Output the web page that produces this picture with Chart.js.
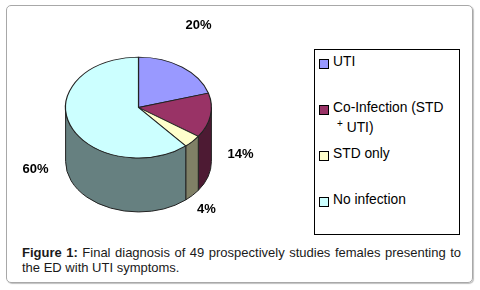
<!DOCTYPE html>
<html>
<head>
<meta charset="utf-8">
<script src="https://cdn.jsdelivr.net/npm/chart.js@4.4.1/dist/chart.umd.min.js"></script>
<style>
  html, body { margin:0; padding:0; background:#fff; width:480px; height:290px; overflow:hidden;
    font-family:"Liberation Sans", Arial, Helvetica, sans-serif; }
  #frame { position:absolute; left:6px; top:5px; width:467px; height:278px; border:1px solid #a8a8a8;
    border-radius:5px; box-shadow:1px 1px 1px rgba(0,0,0,0.25); box-sizing:border-box; }
  #chartWrap { position:absolute; left:0; top:0; width:300px; height:230px; }
  #legendBox { position:absolute; left:314px; top:49px; width:146px; height:186px; border:1px solid #000; box-sizing:border-box; }
  .lg-sq { position:absolute; width:10px; height:10px; border:1px solid #000; box-sizing:border-box; }
  .lg-tx { position:absolute; font-size:13.8px; line-height:20px; color:#000; white-space:nowrap; }
  .lg-tx sup { font-size:10px; vertical-align:5px; line-height:0; }
  .cap { position:absolute; left:22px; width:439px; font-size:13px; line-height:15px; color:#1a1a1a; white-space:nowrap; }
  #cap1 { top:245px; text-align:justify; text-align-last:justify; white-space:normal; }
  #cap2 { top:260px; }
</style>
</head>
<body>
<div id="frame"></div>
<div id="chartWrap"><canvas id="c" width="300" height="230"></canvas></div>
<div id="legendBox"></div>
<div id="legendItems"></div>
<div class="cap" id="cap1"><b>Figure 1:</b> Final diagnosis of 49 prospectively studies females presenting to</div>
<div class="cap" id="cap2">the ED with UTI symptoms.</div>
<script>
// ---- data ----
const categories = ['UTI', 'Co-Infection (STD + UTI)', 'STD only', 'No infection'];
const percentages = [20, 14, 4, 60];
const valueLabels = percentages.map(v => v + '%');

// ---- styles ----
const topColors  = ['#9999ff', '#993366', '#ffffcc', '#ccffff'];
const sideColors = ['#4d4d80', '#4d1a33', '#808066', '#668080'];
const edgeColor = '#222222';
// label placement relative to pie centre (layout only)
const labelOffsets = [[60, -82], [102, 47], [68, 102], [-103, 62]];

const pie3d = {
  id: 'pie3d',
  beforeDatasetsDraw(chart, args, opts) {
    const ctx = chart.ctx;
    const arcs = chart.getDatasetMeta(0).data;
    this._saved = false;
    if (!arcs.length) return;
    const p0 = arcs[0].getProps(['x', 'y', 'outerRadius'], true);
    const cx = p0.x, cy = p0.y, rx = p0.outerRadius, ry = rx * opts.squash, d = opts.depth;
    arcs.forEach((arc, i) => {
      const p = arc.getProps(['startAngle', 'endAngle'], true);
      const a1 = Math.max(p.startAngle, 0), a2 = Math.min(p.endAngle, Math.PI);
      if (a2 <= a1) return;
      ctx.save();
      ctx.beginPath();
      ctx.ellipse(cx, cy, rx, ry, 0, a1, a2);
      ctx.lineTo(cx + rx * Math.cos(a2), cy + ry * Math.sin(a2) + d);
      ctx.ellipse(cx, cy + d, rx, ry, 0, a2, a1, true);
      ctx.closePath();
      ctx.fillStyle = opts.sideColors[i];
      ctx.fill();
      ctx.strokeStyle = opts.edge;
      ctx.lineWidth = 1;
      ctx.stroke();
      ctx.restore();
    });
    ctx.save();
    this._saved = true;
    ctx.translate(cx, cy);
    ctx.scale(1, opts.squash);
    ctx.translate(-cx, -cy);
  },
  afterDatasetsDraw(chart, args, opts) {
    const ctx = chart.ctx;
    if (this._saved) ctx.restore();
    const arcs = chart.getDatasetMeta(0).data;
    if (!arcs.length) return;
    const p0 = arcs[0].getProps(['x', 'y'], true);
    ctx.save();
    ctx.font = 'bold 13px "Liberation Sans", Arial, sans-serif';
    ctx.fillStyle = '#000';
    ctx.textAlign = 'center';
    ctx.textBaseline = 'middle';
    opts.labels.forEach((t, i) => {
      const o = opts.offsets[i];
      ctx.fillText(t, p0.x + o[0], p0.y + o[1]);
    });
    ctx.restore();
  }
};

const chart = new Chart(document.getElementById('c'), {
  type: 'pie',
  data: {
    labels: categories,
    datasets: [{
      data: percentages,
      backgroundColor: topColors,
      borderColor: edgeColor,
      borderWidth: 1.2,
      hoverOffset: 0,
      offset: 0,
      clip: false
    }]
  },
  options: {
    responsive: false,
    animation: false,
    devicePixelRatio: 1,
    events: [],
    rotation: 0,
    layout: { padding: { left: 65, right: 88, top: 33, bottom: 48 } },
    plugins: {
      legend: { display: false },
      tooltip: { enabled: false },
      pie3d: { squash: 0.692, depth: 54, sideColors: sideColors, edge: edgeColor,
               labels: valueLabels, offsets: labelOffsets }
    }
  },
  plugins: [pie3d]
});

// ---- HTML legend built from the chart's data ----
const legendItems = document.getElementById('legendItems');
categories.forEach((name, i) => {
  const sqTop = 59 + i * 46;
  const sq = document.createElement('div');
  sq.className = 'lg-sq';
  sq.style.left = '319px';
  sq.style.top = sqTop + 'px';
  sq.style.background = topColors[i];
  legendItems.appendChild(sq);
  const tx = document.createElement('div');
  tx.className = 'lg-tx';
  tx.style.left = '333px';
  tx.style.top = (sqTop - 7.5) + 'px';
  const parts = name.split(' + ');
  if (parts.length === 2) {
    tx.innerHTML = parts[0] + '<br><span style="padding-left:4px"><sup>+</sup> ' + parts[1] + '</span>';
  } else {
    tx.textContent = name;
  }
  legendItems.appendChild(tx);
});
</script>
</body>
</html>
